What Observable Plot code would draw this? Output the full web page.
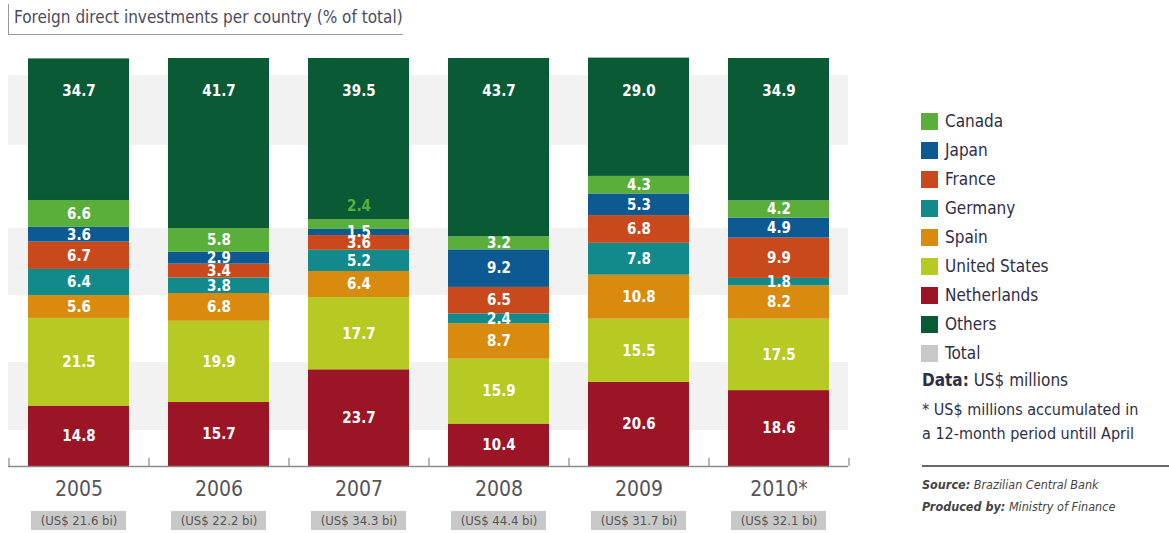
<!DOCTYPE html>
<html>
<head>
<meta charset="utf-8">
<script src="https://cdn.jsdelivr.net/npm/d3@7"></script>
<script src="https://cdn.jsdelivr.net/npm/@observablehq/plot@0.6"></script>
<style>
  body { margin: 0; background: #fff; }
  #wrap { position: relative; width: 1169px; height: 533px; overflow: hidden;
          font-family: "Liberation Sans Narrow", "DejaVu Sans Condensed", "Roboto", sans-serif; }
  #chart { position: absolute; left: 0; top: 0; }
  #title { position: absolute; left: 8px; top: 4px; width: 394px; height: 30px;
           border-left: 1.5px solid #999; border-bottom: 1.5px solid #999; }
  #title span { position: absolute; left: 5px; top: 3px; font-size: 17px; color: #4b4b5e; white-space: nowrap; }
  #legend { position: absolute; left: 921px; top: 112px; }
  .li { position: relative; height: 29px; font-size: 17px; color: #2e2e45; white-space: nowrap; }
  .li i { position: absolute; left: 0; top: 1px; width: 17px; height: 17px; }
  .li span { position: absolute; left: 24px; top: -1px; }
  #notes { position: absolute; left: 922px; top: 370px; color: #2e2e45; font-size: 16px; white-space: nowrap; }
  #src { position: absolute; left: 922px; top: 465px; width: 247px; border-top: 2px solid #666;
         font-size: 12.5px; font-style: italic; color: #444; line-height: 22px; padding-top: 7px; white-space: nowrap; }
</style>
</head>
<body>
<div id="wrap">
  <div id="chart"></div>
  <div id="title"><span>Foreign direct investments per country (% of total)</span></div>
  <div id="legend"></div>
  <div id="notes">
    <div style="font-size:17px"><b>Data:</b> US$ millions</div>
    <div style="margin-top:8px;line-height:24px">* US$ millions  accumulated in<br>a 12-month period untill April</div>
  </div>
  <div id="src"><div><b>Source:</b> Brazilian Central Bank</div><div><b>Produced by:</b> Ministry of Finance</div></div>
</div>
<script>
const years = ["2005", "2006", "2007", "2008", "2009", "2010*"];
const countries = ["Netherlands", "United States", "Spain", "Germany", "France", "Japan", "Canada", "Others"];
const netherlands  = [14.8, 15.7, 23.7, 10.4, 20.6, 18.6];
const unitedStates = [21.5, 19.9, 17.7, 15.9, 15.5, 17.5];
const spain        = [5.6, 6.8, 6.4, 8.7, 10.8, 8.2];
const germany      = [6.4, 3.8, 5.2, 2.4, 7.8, 1.8];
const france       = [6.7, 3.4, 3.6, 6.5, 6.8, 9.9];
const japan        = [3.6, 2.9, 1.5, 9.2, 5.3, 4.9];
const canada       = [6.6, 5.8, 2.4, 3.2, 4.3, 4.2];
const others       = [34.7, 41.7, 39.5, 43.7, 29.0, 34.9];
const totalsBi     = [21.6, 22.2, 34.3, 44.4, 31.7, 32.1];
const legendOrder  = ["Canada", "Japan", "France", "Germany", "Spain", "United States", "Netherlands", "Others", "Total"];
const colors = {
  "Canada": "#5aae3a", "Japan": "#0d5a92", "France": "#c9491d", "Germany": "#128a8c",
  "Spain": "#d98b0f", "United States": "#b7c923", "Netherlands": "#9c1526", "Others": "#0b5a36", "Total": "#c8c8c8"
};
// decorative background bands, in % units
const bandLo = [8.8, 41.9, 78.7];
const bandHi = [25.5, 58.3, 95.8];

const series = [netherlands, unitedStates, spain, germany, france, japan, canada, others];
const rows = [];
countries.forEach((c, i) => years.forEach((y, j) => rows.push({country: c, year: y, value: series[i][j]})));
const totalRows = years.map((y, j) => ({year: y, total: totalsBi[j]}));
const bands = bandLo.map((lo, i) => ({lo, hi: bandHi[i]}));

const isOutside = d => d.country === "Canada" && d.year === "2007";
const font = '"Liberation Sans Narrow", "DejaVu Sans Condensed", sans-serif';

const chart = Plot.plot({
  width: 880, height: 533,
  marginLeft: 8, marginRight: 32, marginTop: 58, marginBottom: 67,
  style: {fontFamily: font, background: "transparent"},
  x: {type: "band", domain: years, paddingInner: 0.28, paddingOuter: 0.14, label: null},
  y: {domain: [0, 100], axis: null},
  color: {domain: Object.keys(colors), range: Object.values(colors)},
  marks: [
    Plot.rectY(bands, {y1: "lo", y2: "hi", fill: "#f2f2f2"}),
    Plot.barY(rows, Plot.stackY({x: "year", y: "value", fill: "country", order: countries})),
    Plot.text(rows, Plot.stackY({x: "year", y: "value", z: "country", order: countries,
      text: d => (d.country === "Others" || isOutside(d)) ? null : d.value.toFixed(1),
      fill: "white", fontWeight: "bold", fontSize: 15})),
    Plot.text(rows, Plot.stackY2({x: "year", y: "value", z: "country", order: countries,
      text: d => isOutside(d) ? d.value.toFixed(1) : null,
      fill: colors["Canada"], fontWeight: "bold", fontSize: 15, dy: -13})),
    Plot.text(rows.filter(d => d.country === "Others"), {x: "year", frameAnchor: "top", dy: 27,
      text: d => d.value.toFixed(1), fill: "white", fontWeight: "bold", fontSize: 15}),
    Plot.ruleY([0], {stroke: "#8a8a8a", strokeWidth: 1.5}),
    Plot.ruleX(years, {x: d => d, y1: 0, y2: 2, dx: -70, stroke: "#8a8a8a", strokeWidth: 1.2}),
    Plot.ruleX(years.slice(-1), {x: d => d, y1: 0, y2: 2, dx: 70, stroke: "#8a8a8a", strokeWidth: 1.2}),
    Plot.axisX({tickSize: 0, tickPadding: 15, fontSize: 21, fill: "#555", label: null}),
    Plot.barY(totalRows, {x: "year", y1: -11.0, y2: -15.7, fill: colors["Total"], insetLeft: 3, insetRight: 3}),
    Plot.text(totalRows, {x: "year", y: -13.35, text: d => `(US$ ${d.total.toFixed(1)} bi)`, fontSize: 13, fill: "#555"})
  ]
});
document.getElementById("chart").appendChild(chart);

const legend = document.getElementById("legend");
legendOrder.forEach(k => {
  const el = document.createElement("div");
  el.className = "li";
  el.innerHTML = `<i style="background:${colors[k]}"></i><span>${k}</span>`;
  legend.appendChild(el);
});
</script>
</body>
</html>
